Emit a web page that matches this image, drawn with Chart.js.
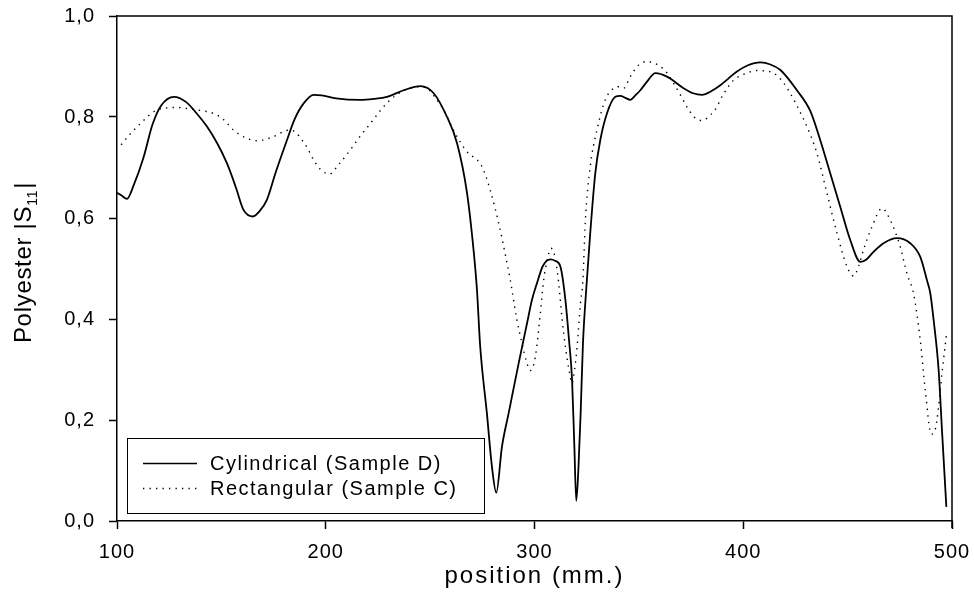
<!DOCTYPE html>
<html>
<head>
<meta charset="utf-8">
<script src="https://cdn.jsdelivr.net/npm/chart.js@4.4.1/dist/chart.umd.min.js"></script>
<style>
    html, body { margin: 0; padding: 0; background: #fff; }
    #wrap { width: 974px; height: 595px; position: relative; }
</style>
</head>
<body>
<div id="wrap"><canvas id="chart"></canvas></div>
<script>
// Cylindrical (Sample D) - solid line
const cylX = [100, 102, 104.8, 108, 112.7, 117, 121, 127.4, 133, 138, 143.1, 148, 152.7, 157, 160.6, 165.1, 168, 171.8, 176, 181.4,
    185, 189.4, 194.2, 198, 205, 216.6, 223, 229.3, 237.3, 245.3, 251.7, 258.1, 262.9, 267.7, 270.8, 272.4, 274, 277.2, 279.6, 281.7,
    284.4, 287.6, 292.4, 296.4, 298.8, 301.2, 304, 307.6, 310, 312.4, 314.8, 316.5, 318, 319.1, 320, 321, 322.1, 323.2, 324.8, 326.7,
    329.1, 331.5, 334.7, 338.7, 341.1, 343.5, 345.9, 348.3, 350.7, 353.9, 357.9, 363.5, 371.4, 376, 380.2, 385, 389, 397, 402, 408.2,
    413, 417.8, 425.7, 432.1, 436.9, 441.7, 446.5, 451.3, 456.1, 459, 462.4, 467.2, 473.6, 480, 484.8, 488, 489.6, 491.2, 493.6, 495.2, 497.3];
const cylY = [0.650, 0.645, 0.638, 0.665, 0.720, 0.785, 0.822, 0.840, 0.830, 0.808, 0.781, 0.748, 0.708, 0.660, 0.616, 0.603, 0.612, 0.636, 0.690, 0.754,
    0.795, 0.827, 0.844, 0.843, 0.837, 0.834, 0.836, 0.840, 0.853, 0.861, 0.847, 0.800, 0.748, 0.649, 0.537, 0.460, 0.345, 0.213, 0.108, 0.056,
    0.147, 0.213, 0.312, 0.391, 0.438, 0.471, 0.505, 0.518, 0.515, 0.504, 0.438, 0.360, 0.279, 0.147, 0.040, 0.100, 0.213, 0.350, 0.460, 0.570,
    0.688, 0.754, 0.807, 0.840, 0.842, 0.838, 0.834, 0.843, 0.853, 0.870, 0.887, 0.880, 0.857, 0.847, 0.844, 0.852, 0.863, 0.890, 0.902, 0.908,
    0.904, 0.893, 0.853, 0.812, 0.754, 0.688, 0.622, 0.556, 0.513, 0.518, 0.533, 0.550, 0.560, 0.550, 0.523, 0.477, 0.451, 0.398, 0.299, 0.180, 0.028];

// Rectangular (Sample C) - dotted line
const recX = [102, 106, 111.2, 115, 119.2, 124, 128.7, 133, 138.3, 146.3, 151, 155.9, 161, 167.1, 172, 176.6, 180, 183, 186, 189,
    191, 194.2, 197.5, 201.8, 206, 211.8, 216.5, 221.4, 226, 230.9, 235.5, 240.5, 244.5, 248.5, 252.5, 256.5, 261.2, 264.5, 267.7, 271,
    274, 276.5, 278.8, 281.2, 283.6, 286, 288.4, 291.6, 294, 296.2, 298, 300.4, 302.8, 304.4, 306, 307.9, 309.7, 311.5, 313.2, 314.8,
    316.5, 318, 319.2, 320.4, 322, 323.2, 324.3, 326.7, 329.9, 333.9, 337.9, 340.3, 342.7, 345.9, 349.9, 353.9, 357, 360.3, 363.5, 366.6,
    370, 373, 376.5, 380.2, 384, 387.4, 389, 392, 395.4, 400, 406.6, 410.5, 414.6, 418.5, 422.5, 426.5, 430.5, 435.3, 440.1, 444.9,
    449.7, 452.9, 455.3, 457.6, 461.7, 466.5, 470.4, 475.2, 478.4, 481.6, 484.8, 487.2, 490.1, 491.5, 492.8, 495.2, 497.3];
const recY = [0.745, 0.765, 0.787, 0.802, 0.814, 0.818, 0.819, 0.817, 0.814, 0.807, 0.795, 0.774, 0.760, 0.753, 0.757, 0.764, 0.772, 0.774, 0.768, 0.752,
    0.740, 0.715, 0.696, 0.687, 0.705, 0.735, 0.762, 0.787, 0.812, 0.834, 0.848, 0.857, 0.860, 0.857, 0.838, 0.814, 0.774, 0.750, 0.731, 0.720,
    0.708, 0.685, 0.655, 0.618, 0.576, 0.528, 0.477, 0.398, 0.352, 0.315, 0.298, 0.325, 0.411, 0.477, 0.515, 0.540, 0.525, 0.475, 0.400, 0.345,
    0.300, 0.273, 0.300, 0.345, 0.430, 0.477, 0.590, 0.702, 0.774, 0.834, 0.857, 0.860, 0.857, 0.880, 0.903, 0.910, 0.907, 0.900, 0.887, 0.867,
    0.843, 0.820, 0.800, 0.793, 0.803, 0.820, 0.834, 0.855, 0.873, 0.884, 0.892, 0.891, 0.887, 0.872, 0.847, 0.816, 0.781, 0.728, 0.649, 0.570,
    0.504, 0.485, 0.505, 0.537, 0.583, 0.619, 0.596, 0.543, 0.490, 0.450, 0.358, 0.259, 0.172, 0.175, 0.200, 0.292, 0.368];

const seriesLabels = ["Cylindrical (Sample D)", "Rectangular (Sample C)"];
const xTicks = [100, 200, 300, 400, 500];
const yTicks = [0, 0.2, 0.4, 0.6, 0.8, 1.0];

const FONT = "'Liberation Sans', Arial, sans-serif";

function toPoints(xs, ys) {
    return xs.map((x, i) => ({ x: x, y: ys[i] }));
}

// frame, legend box and axis titles (Sigmaplot style)
const decorPlugin = {
    id: "decor",
    beforeDraw(chart) {
        chart.ctx.letterSpacing = "1px";
    },
    afterDraw(chart) {
        const ctx = chart.ctx;
        const a = chart.chartArea;
        ctx.save();

        // top + right frame
        ctx.strokeStyle = "#000";
        ctx.lineWidth = 1.5;
        ctx.beginPath();
        ctx.moveTo(a.left, a.top);
        ctx.lineTo(a.right, a.top);
        ctx.lineTo(a.right, a.bottom + 7);
        ctx.stroke();

        // legend
        const bx = 127.5, by = 438.5, bw = 357, bh = 75;
        ctx.fillStyle = "#fff";
        ctx.fillRect(bx, by, bw, bh);
        ctx.lineWidth = 1;
        ctx.strokeRect(bx, by, bw, bh);
        const rows = [by + 25, by + 50];
        ctx.lineWidth = 1.7;
        ctx.beginPath();
        ctx.moveTo(143, rows[0]);
        ctx.lineTo(197, rows[0]);
        ctx.stroke();
        ctx.setLineDash([1.3, 5.2]);
        ctx.lineWidth = 1.3;
        ctx.beginPath();
        ctx.moveTo(143, rows[1]);
        ctx.lineTo(197, rows[1]);
        ctx.stroke();
        ctx.setLineDash([]);
        ctx.fillStyle = "#000";
        ctx.font = "20px " + FONT;
        ctx.letterSpacing = "1.5px";
        ctx.textAlign = "left";
        ctx.textBaseline = "middle";
        ctx.fillText(seriesLabels[0], 210, rows[0] + 1);
        ctx.fillText(seriesLabels[1], 210, rows[1] + 1);

        // x axis title
        ctx.font = "24px " + FONT;
        ctx.letterSpacing = "2px";
        ctx.textAlign = "center";
        ctx.fillText("position (mm.)", (a.left + a.right) / 2, 576);

        // y axis title with subscript
        ctx.save();
        ctx.translate(24, 263);
        ctx.rotate(-Math.PI / 2);
        ctx.letterSpacing = "0.7px";
        ctx.textAlign = "left";
        ctx.textBaseline = "middle";
        const main = "Polyester |S";
        const sub = "11";
        ctx.font = "24px " + FONT;
        const w1 = ctx.measureText(main).width;
        const w3 = ctx.measureText("|").width;
        ctx.font = "14px " + FONT;
        const w2 = ctx.measureText(sub).width;
        let x0 = -(w1 + w2 + w3) / 2;
        ctx.font = "24px " + FONT;
        ctx.fillText(main, x0, 0);
        ctx.font = "14px " + FONT;
        ctx.fillText(sub, x0 + w1, 9);
        ctx.font = "24px " + FONT;
        ctx.fillText("|", x0 + w1 + w2 + 1, 0);
        ctx.restore();

        ctx.restore();
    }
};

const chart = new Chart(document.getElementById("chart"), {
    type: "line",
    data: {
        datasets: [
            {
                label: seriesLabels[0],
                data: toPoints(cylX, cylY),
                borderColor: "#000",
                borderWidth: 1.8,
                pointRadius: 0,
                cubicInterpolationMode: "monotone",
                fill: false
            },
            {
                label: seriesLabels[1],
                data: toPoints(recX, recY),
                borderColor: "#000",
                borderWidth: 1.4,
                borderDash: [1.4, 5.2],
                pointRadius: 0,
                cubicInterpolationMode: "monotone",
                fill: false
            }
        ]
    },
    options: {
        responsive: true,
        maintainAspectRatio: false,
        animation: false,
        layout: { padding: { top: 16, right: 22, left: 0, bottom: 0 } },
        plugins: {
            legend: { display: false },
            tooltip: { enabled: false }
        },
        scales: {
            x: {
                type: "linear",
                min: 100,
                max: 500,
                afterBuildTicks: scale => { scale.ticks = xTicks.map(v => ({ value: v })); },
                afterFit: scale => {
                    scale.height = 74;
                    scale.paddingLeft = 0;
                    scale.paddingRight = 0;
                },
                ticks: { font: { size: 20, family: FONT }, color: "#000", padding: 11, maxRotation: 0 },
                grid: { drawOnChartArea: false, tickLength: 8, tickColor: "#000", tickWidth: 1.5 },
                border: { color: "#000", width: 1.5 }
            },
            y: {
                min: 0,
                max: 1,
                afterBuildTicks: scale => { scale.ticks = yTicks.map(v => ({ value: v })); },
                afterFit: scale => {
                    scale.width = 117;
                    scale.paddingTop = 0;
                    scale.paddingBottom = 0;
                },
                ticks: {
                    font: { size: 20, family: FONT },
                    color: "#000",
                    padding: 14,
                    callback: v => v.toFixed(1).replace(".", ",")
                },
                grid: { drawOnChartArea: false, tickLength: 8, tickColor: "#000", tickWidth: 1.5 },
                border: { color: "#000", width: 1.5 }
            }
        }
    },
    plugins: [decorPlugin]
});
</script>
</body>
</html>
